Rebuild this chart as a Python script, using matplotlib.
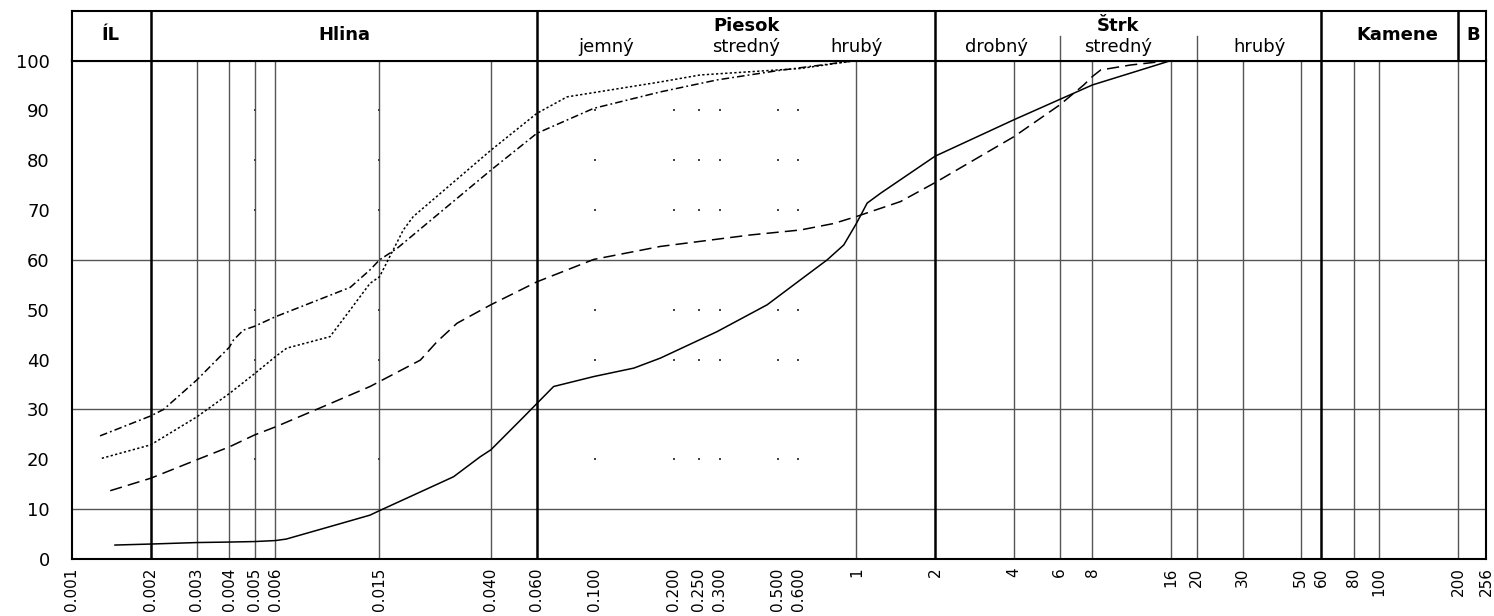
import numpy as np
import matplotlib
matplotlib.use('Agg')
import matplotlib.pyplot as plt
from matplotlib.ticker import NullLocator

plt.rcParams['font.family'] = ['DejaVu Sans']

# grain-size curves: diameter [mm] vs passing [%]
d_solid = [0.00146, 0.002, 0.003, 0.004, 0.005, 0.006, 0.0066, 0.0097, 0.0138, 0.015,
           0.0202, 0.0288, 0.0364, 0.040, 0.0534, 0.060, 0.0695, 0.099, 0.141, 0.178,
           0.293, 0.456, 0.611, 0.773, 0.895, 1.0, 1.1, 1.24, 2, 4, 6, 8, 16]
p_solid = [2.8, 3.0, 3.3, 3.4, 3.5, 3.7, 4.0, 6.5, 8.8, 9.7,
           12.8, 16.5, 20.5, 21.9, 28.5, 31.2, 34.6, 36.6, 38.3, 40.3,
           45.6, 51.0, 56.0, 60.0, 63.0, 67.3, 71.4, 73.4, 80.8, 88.1, 92.2, 95.1, 100]

d_dash = [0.0014, 0.002, 0.003, 0.004, 0.005, 0.006, 0.00916, 0.0138, 0.015, 0.0215,
          0.0249, 0.0297, 0.040, 0.060, 0.099, 0.178, 0.393, 0.611, 0.819, 1.0,
          1.475, 2, 4, 6, 7.41, 8, 8.6, 11.2, 16]
p_dash = [13.7, 16.2, 19.9, 22.5, 24.9, 26.5, 30.6, 34.6, 35.6, 39.9,
          43.6, 47.3, 51.0, 55.6, 60.1, 62.7, 65.0, 66.0, 67.3, 68.7,
          71.7, 75.5, 84.7, 91.1, 95.1, 96.8, 98.1, 99.1, 100]

d_dashdot = [0.00128, 0.002, 0.00224, 0.003, 0.004, 0.00414, 0.00452, 0.005, 0.006, 0.0116,
             0.0138, 0.015, 0.0175, 0.040, 0.060, 0.0989, 0.178, 0.293, 0.498, 1.0]
p_dashdot = [24.7, 28.7, 30.0, 35.9, 42.5, 43.9, 45.9, 46.7, 48.6, 54.5,
             58.0, 60.0, 62.3, 78.0, 85.4, 90.4, 93.7, 96.1, 97.95, 100]

d_dot = [0.0013, 0.002, 0.003, 0.004, 0.005, 0.006, 0.00663, 0.0097, 0.0116, 0.0138,
         0.015, 0.0185, 0.0202, 0.040, 0.060, 0.0782, 0.178, 0.253, 0.611, 1.0]
p_dot = [20.2, 22.9, 28.5, 33.2, 37.2, 40.6, 42.3, 44.6, 50.0, 55.3,
         56.6, 66.0, 68.7, 82.0, 89.4, 92.7, 95.7, 97.1, 98.4, 100]

# axis ticks
tick_vals = [0.001, 0.002, 0.003, 0.004, 0.005, 0.006, 0.015, 0.040, 0.060, 0.100,
             0.200, 0.250, 0.300, 0.500, 0.600, 1, 2, 4, 6, 8, 16, 20, 30, 50, 60,
             80, 100, 200, 256]
tick_labels = ['0.001', '0.002', '0.003', '0.004', '0.005', '0.006', '0.015', '0.040',
               '0.060', '0.100', '0.200', '0.250', '0.300', '0.500', '0.600', '1', '2',
               '4', '6', '8', '16', '20', '30', '50', '60', '80', '100', '200', '256']
thick_x = [0.002, 0.060, 2, 60]
thin_x = [0.003, 0.004, 0.005, 0.006, 0.015, 0.040, 1, 4, 6, 8, 16, 20, 30, 50, 80, 100, 200]
dot_x = [0.005, 0.015, 0.100, 0.200, 0.250, 0.300, 0.500, 0.600]
dot_y = [20, 40, 50, 70, 80, 90]
grid_y = [10, 30, 60]

# header texts
header_main = [('ÍL', 0.0014), ('Hlina', 0.011), ('Kamene', 117), ('B', 228)]
header_group = [('Piesok', 0.38), ('Štrk', 10.0)]
header_sub = [('jemný', 0.11), ('stredný', 0.38), ('hrubý', 1.0),
              ('drobný', 3.44), ('stredný', 10.0), ('hrubý', 35)]
header_div = [0.002, 0.060, 2, 60, 200]
header_subdiv = [6, 20]

W, H = 1494, 616
fig = plt.figure(figsize=(W / 100, H / 100), dpi=100)
x0, x1 = 72, 1486
y_top, y_100, y_0 = 10.5, 60.5, 559
ax = fig.add_axes([x0 / W, (H - y_0) / H, (x1 - x0) / W, (y_0 - y_100) / H])
hx = fig.add_axes([x0 / W, (H - y_100) / H, (x1 - x0) / W, (y_100 - y_top) / H])

ax.set_xscale('log')
ax.set_xlim(0.001, 256)
ax.set_ylim(0, 100)

for xv in thin_x:
    ax.axvline(xv, color='#555555', lw=1.0, zorder=1)
for xv in thick_x:
    ax.axvline(xv, color='black', lw=1.8, zorder=2)
for yv in grid_y:
    ax.axhline(yv, color='#555555', lw=1.0, zorder=1)
dx, dy = np.meshgrid(dot_x, dot_y)
ax.scatter(dx.ravel(), dy.ravel(), s=1.2, color='#444444', marker='s', linewidths=0, zorder=1)

ax.plot(d_solid, p_solid, color='black', lw=1.1, ls='-', zorder=3)
ax.plot(d_dash, p_dash, color='black', lw=1.1, ls=(0, (8, 4)), zorder=3)
ax.plot(d_dashdot, p_dashdot, color='black', lw=1.1, ls=(0, (5, 2, 1.2, 2)), zorder=3)
ax.plot(d_dot, p_dot, color='black', lw=1.1, ls=(0, (1.5, 1.5)), zorder=3)

for s in ax.spines.values():
    s.set_linewidth(1.5)
    s.set_color('black')
ax.set_xticks(tick_vals)
ax.set_xticklabels(tick_labels, rotation=90, va='top', ha='center', fontsize=11)
ax.xaxis.set_minor_locator(NullLocator())
ax.set_yticks(range(0, 101, 10))
ax.set_yticklabels([str(v) for v in range(0, 101, 10)], fontsize=13)
ax.tick_params(axis='both', length=0)
ax.tick_params(axis='x', pad=6)
ax.tick_params(axis='y', pad=16)

# header band
hx.set_xscale('log')
hx.set_xlim(0.001, 256)
hx.set_ylim(0, 1)
hx.xaxis.set_major_locator(NullLocator())
hx.xaxis.set_minor_locator(NullLocator())
hx.set_yticks([])
for s in hx.spines.values():
    s.set_linewidth(1.5)
    s.set_color('black')
for xv in header_div:
    hx.axvline(xv, color='black', lw=1.8)
for xv in header_subdiv:
    hx.axvline(xv, ymin=0, ymax=0.49, color='#555555', lw=1.0)
for txt, xv in header_main:
    hx.text(xv, 0.5, txt, ha='center', va='center', fontsize=13, fontweight='bold')
for txt, xv in header_group:
    hx.text(xv, 0.69, txt, ha='center', va='center', fontsize=13, fontweight='bold')
for txt, xv in header_sub:
    hx.text(xv, 0.16, txt, ha='center', va='baseline', fontsize=13)

fig.savefig('out.png', dpi=100)
